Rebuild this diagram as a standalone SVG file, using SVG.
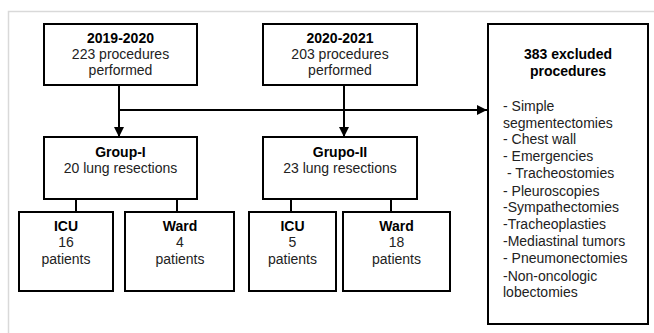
<svg xmlns="http://www.w3.org/2000/svg" width="654" height="333" viewBox="0 0 654 333">
<style>
.box{fill:#fff;stroke:#000;stroke-width:2}
text{font-family:"Liberation Sans",Arial,sans-serif;font-size:14px;fill:#222}
.c{text-anchor:middle}
.b{font-weight:bold;fill:#000}
.ln{stroke:#000;stroke-width:2;fill:none}
</style>
<defs>
<marker id="ah" viewBox="0 0 10 10" refX="10" refY="5" markerWidth="10" markerHeight="10" markerUnits="userSpaceOnUse" orient="auto">
<path d="M0,0 L10,5 L0,10 Z" fill="#000"/>
</marker>
</defs>
<rect x="0" y="0" width="654" height="333" fill="#fff"/>
<rect x="8.5" y="11.5" width="700" height="400" fill="none" stroke="#d9d9d9" stroke-width="1.5"/>
<g id="connectors">
<line class="ln" x1="119" y1="85" x2="119" y2="137" marker-end="url(#ah)"/>
<line class="ln" x1="344" y1="85" x2="344" y2="137" marker-end="url(#ah)"/>
<line class="ln" x1="119" y1="110" x2="487" y2="110" marker-end="url(#ah)"/>
<line class="ln" x1="76" y1="199" x2="76" y2="212"/>
<line class="ln" x1="177" y1="199" x2="177" y2="212"/>
<line class="ln" x1="291" y1="199" x2="291" y2="212"/>
<line class="ln" x1="391" y1="199" x2="391" y2="212"/>
</g>
<g id="y2019">
<rect class="box" x="44" y="24" width="153" height="61"/>
<text class="c b" x="120.5" y="43">2019-2020</text>
<text class="c" x="120.5" y="59">223 procedures</text>
<text class="c" x="120.5" y="75">performed</text>
</g>
<g id="y2020">
<rect class="box" x="263" y="24" width="154" height="61"/>
<text class="c b" x="340" y="43">2020-2021</text>
<text class="c" x="340" y="59">203 procedures</text>
<text class="c" x="340" y="75">performed</text>
</g>
<g id="group1">
<rect class="box" x="44" y="137" width="153" height="62"/>
<text class="c b" x="120.5" y="157">Group-I</text>
<text class="c" x="120.5" y="173">20 lung resections</text>
</g>
<g id="group2">
<rect class="box" x="263" y="137" width="154" height="62"/>
<text class="c b" x="340" y="157">Grupo-II</text>
<text class="c" x="340" y="173">23 lung resections</text>
</g>
<g id="icu1">
<rect class="box" x="19" y="212" width="94" height="79"/>
<text class="c b" x="66" y="231">ICU</text>
<text class="c" x="66" y="247">16</text>
<text class="c" x="66" y="264">patients</text>
</g>
<g id="ward1">
<rect class="box" x="125" y="212" width="109" height="79"/>
<text class="c b" x="180" y="231">Ward</text>
<text class="c" x="180" y="247">4</text>
<text class="c" x="180" y="264">patients</text>
</g>
<g id="icu2">
<rect class="box" x="249" y="212" width="87" height="79"/>
<text class="c b" x="292.5" y="231">ICU</text>
<text class="c" x="292.5" y="247">5</text>
<text class="c" x="292.5" y="264">patients</text>
</g>
<g id="ward2">
<rect class="box" x="343" y="212" width="107" height="79"/>
<text class="c b" x="396.5" y="231">Ward</text>
<text class="c" x="396.5" y="247">18</text>
<text class="c" x="396.5" y="264">patients</text>
</g>
<g id="excluded">
<rect class="box" x="488" y="24" width="160" height="300"/>
<text class="c b" x="568" y="59">383 excluded</text>
<text class="c b" x="568" y="76">procedures</text>
<text x="503" y="111">- Simple</text>
<text x="503" y="128">segmentectomies</text>
<text x="503" y="144">- Chest wall</text>
<text x="503" y="161">- Emergencies</text>
<text x="503" y="178" xml:space="preserve"> - Tracheostomies</text>
<text x="503" y="196">- Pleuroscopies</text>
<text x="503" y="212">-Sympathectomies</text>
<text x="503" y="229">-Tracheoplasties</text>
<text x="503" y="246">-Mediastinal tumors</text>
<text x="503" y="263">- Pneumonectomies</text>
<text x="503" y="281">-Non-oncologic</text>
<text x="503" y="297">lobectomies</text>
</g>
</svg>
